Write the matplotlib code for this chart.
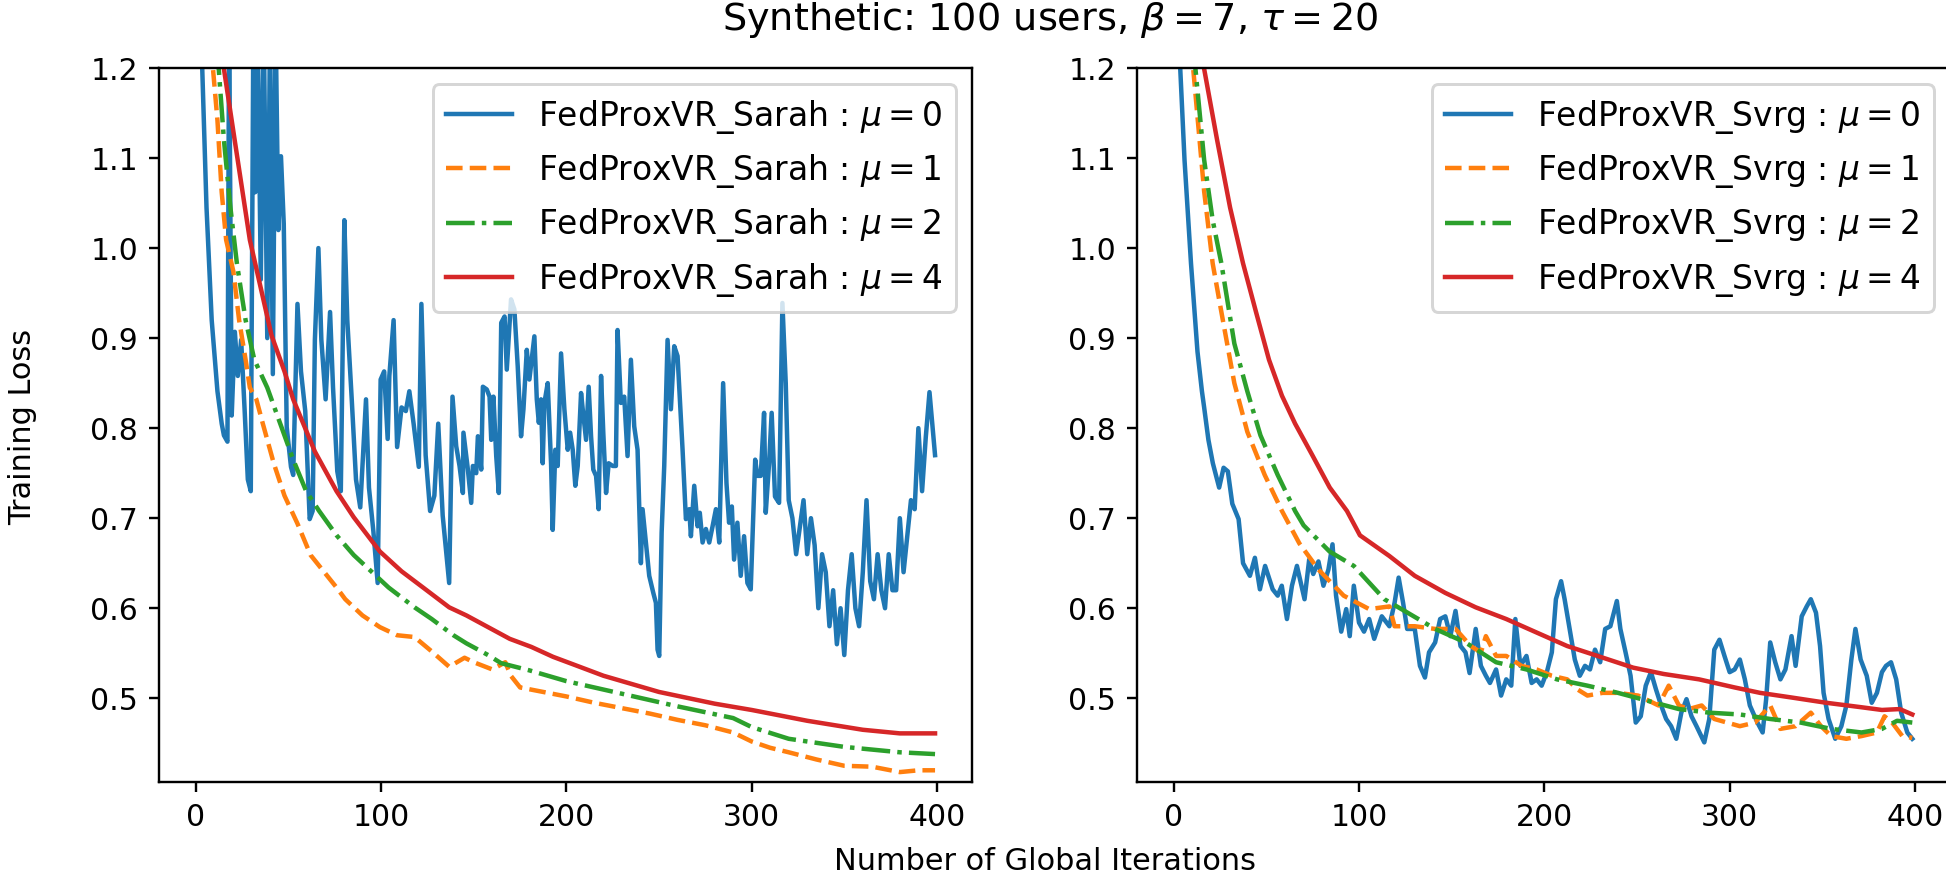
import matplotlib
matplotlib.use("Agg")
import matplotlib.pyplot as plt

# ---- left panel: FedProxVR_Sarah ----
sarah_mu0_it = [0, 3.4, 5.7, 8.5, 11.6, 13.9, 15.1, 17, 17.9, 19.3, 21, 22.6, 24.4, 26.3, 28, 29.6, 31, 32, 33.3, 35,
                36.6, 38.5, 40, 41.5, 43, 44.5, 45.9, 47.4, 49, 51.3, 52.5, 54.8, 56.7, 59, 61.4, 63, 64.2, 66.1, 67.7,
                70, 72.4, 74, 76.3, 78.2, 80.1, 81.7, 84.1, 86.4, 88.7, 91.8, 93.4, 95.8, 98.1, 99.7, 101.6, 103.5,
                104.4, 106.7, 108.6, 111, 113.3, 115.2, 117.5, 120.3, 121.7, 124, 126.4, 128.7, 130.8, 133.2, 136.7,
                138.5, 140.5, 142.3, 144.1, 144.4, 146.8, 148.6, 149.5, 151.3, 152.2, 154, 154.9, 157, 158.5, 159.4,
                160.6, 162.1, 163.5, 164.8, 166.6, 167.8, 170.1, 171.9, 173.7, 175.5, 176.8, 178.6, 180, 182.7, 184,
                185.1, 186.3, 187.2, 188.1, 189.9, 191.7, 192.6, 194, 195.3, 197.1, 198.9, 200.7, 202, 203.4, 204.8,
                206.1, 207.9, 208.8, 210.6, 212, 213.3, 214.5, 216, 217.4, 218.7, 219.9, 221.4, 222.8, 225, 226.7,
                227.6, 229.4, 231.2, 233, 234.8, 236.6, 238.4, 240.2, 241.1, 242.9, 244.7, 246.9, 248.3, 249.2, 250.1,
                251.4, 252.8, 254.6, 256.4, 258.2, 260, 262.7, 264.5, 266.3, 267.2, 269, 270.8, 272, 273.5, 275.3,
                277.1, 278.9, 280.7, 282.5, 284.6, 286.4, 287.8, 289.3, 290.5, 292.3, 294.1, 295.9, 297.7, 299.5,
                301.9, 303.1, 304.9, 306.7, 307.6, 309.4, 310.8, 312.6, 314.8, 316.6, 318.4, 320, 322, 324, 326,
                328, 330, 332, 334, 336, 338, 340, 342, 344, 346, 348, 350, 352, 354, 356, 358, 360, 362, 364, 366,
                368, 370, 372, 374, 376, 378, 380, 382, 384, 386, 388, 390, 392, 394, 396, 399]
sarah_mu0_loss = [1.35, 1.199, 1.045, 0.920, 0.841, 0.805, 0.792, 0.785, 1.25, 0.814, 0.907, 0.858, 0.898, 0.819,
                  0.743, 0.730, 1.25, 1.062, 1.25, 0.965, 1.25, 0.90, 1.25, 0.86, 1.25, 1.02, 1.102, 1.027, 0.801,
                  0.757, 0.748, 0.938, 0.863, 0.819, 0.699, 0.708, 0.898, 1.0, 0.898, 0.832, 0.929, 0.845, 0.752,
                  0.730, 1.031, 0.920, 0.832, 0.743, 0.712, 0.832, 0.734, 0.685, 0.628, 0.854, 0.863, 0.788, 0.858,
                  0.920, 0.779, 0.823, 0.819, 0.841, 0.805, 0.757, 0.938, 0.770, 0.708, 0.725, 0.805, 0.703, 0.628,
                  0.835, 0.780, 0.758, 0.728, 0.795, 0.754, 0.717, 0.758, 0.750, 0.791, 0.754, 0.846, 0.843, 0.835,
                  0.787, 0.835, 0.769, 0.728, 0.917, 0.924, 0.865, 0.943, 0.932, 0.869, 0.791, 0.821, 0.887, 0.854,
                  0.902, 0.832, 0.806, 0.832, 0.761, 0.828, 0.850, 0.761, 0.687, 0.776, 0.758, 0.883, 0.821, 0.776,
                  0.795, 0.776, 0.736, 0.758, 0.839, 0.821, 0.787, 0.846, 0.791, 0.754, 0.747, 0.710, 0.858, 0.795,
                  0.728, 0.761, 0.758, 0.758, 0.909, 0.828, 0.835, 0.769, 0.876, 0.802, 0.776, 0.650, 0.710, 0.673,
                  0.636, 0.617, 0.606, 0.554, 0.547, 0.684, 0.758, 0.898, 0.821, 0.891, 0.880, 0.776, 0.699, 0.710,
                  0.680, 0.736, 0.691, 0.706, 0.673, 0.688, 0.673, 0.691, 0.710, 0.673, 0.850, 0.739, 0.695, 0.713,
                  0.654, 0.695, 0.636, 0.680, 0.628, 0.621, 0.765, 0.747, 0.747, 0.817, 0.706, 0.761, 0.817, 0.724,
                  0.717, 0.939, 0.850, 0.72, 0.70, 0.66, 0.69, 0.72, 0.66, 0.70, 0.67, 0.60, 0.66, 0.64, 0.58, 0.62,
                  0.56, 0.60, 0.548, 0.62, 0.66, 0.60, 0.58, 0.64, 0.72, 0.63, 0.61, 0.66, 0.62, 0.60, 0.66, 0.62, 0.62,
                  0.70, 0.64, 0.68, 0.72, 0.71, 0.80, 0.73, 0.79, 0.84, 0.77]

sarah_mu1_it = [0, 9.2, 11.6, 13.9, 16.3, 20.2, 23.3, 26.8, 29.1, 32.6, 36.1, 42, 47.8, 54.8, 61.9, 68.9, 75.9, 80.6,
                89.9, 99.3, 108.6, 118, 127.3, 136.7, 145, 150, 160, 167, 170, 175, 185, 200, 215, 230, 245, 260, 275,
                290, 300, 310, 320, 335, 350, 365, 380, 390, 399]
sarah_mu1_loss = [1.6, 1.199, 1.142, 1.062, 1.009, 0.974, 0.920, 0.876, 0.845, 0.832, 0.805, 0.761, 0.725, 0.694,
                  0.659, 0.641, 0.623, 0.610, 0.592, 0.579, 0.570, 0.568, 0.552, 0.535, 0.545, 0.540, 0.532, 0.540,
                  0.525, 0.512, 0.508, 0.502, 0.495, 0.489, 0.483, 0.476, 0.470, 0.462, 0.452, 0.445, 0.440, 0.432,
                  0.425, 0.424, 0.418, 0.420, 0.420]

sarah_mu2_it = [0, 12.3, 15.1, 18.6, 22.1, 26.8, 31.5, 38.5, 45.5, 52.5, 59.5, 66.5, 75.9, 85.2, 94.6, 104, 118, 127.3,
                139, 146, 157.7, 164.7, 180, 200, 230, 260, 290, 300, 320, 350, 380, 399]
sarah_mu2_loss = [1.6, 1.199, 1.120, 1.045, 0.983, 0.920, 0.876, 0.845, 0.805, 0.765, 0.730, 0.708, 0.681, 0.659,
                  0.641, 0.623, 0.601, 0.588, 0.570, 0.561, 0.548, 0.539, 0.531, 0.519, 0.505, 0.491, 0.478, 0.468,
                  0.455, 0.446, 0.440, 0.438]

sarah_mu4_it = [0, 15.1, 20.9, 29.1, 40.8, 47.8, 52.5, 64.2, 75.9, 85.2, 99.3, 111, 122.6, 136.7, 146, 157.7, 169.4,
                181.1, 192.8, 204.5, 220, 250, 280, 300, 330, 360, 380, 399]
sarah_mu4_loss = [1.7, 1.199, 1.120, 1.009, 0.903, 0.863, 0.832, 0.774, 0.730, 0.701, 0.663, 0.641, 0.623, 0.601,
                  0.592, 0.579, 0.566, 0.557, 0.546, 0.537, 0.525, 0.507, 0.494, 0.487, 0.475, 0.465, 0.461, 0.461]

# ---- right panel: FedProxVR_Svrg ----
svrg_mu0_it = [0, 3.4, 5.7, 9.2, 12.7, 15.1, 16.3, 18.6, 21, 24.4, 26.8, 29.1, 31.5, 34.9, 37.3, 41, 43.7, 46.4, 49.2,
               53.3, 56, 58.2, 61, 63.7, 66.4, 70.5, 73, 75.2, 78, 80.7, 83.4, 85.6, 87.5, 90.3, 93, 94.9, 97.1, 99.9,
               102.6, 105.4, 108.1, 112.2, 116.3, 119.1, 121.3, 123.7, 125.9, 130, 132.8, 135.5, 137.7, 141, 143.7,
               146.5, 149.2, 152, 154.7, 157.4, 159.6, 162.9, 165.7, 168.4, 170.6, 173.9, 176.6, 179.4, 182.1, 184.3,
               187, 190.3, 193.1, 195.8, 198.5, 201.3, 204, 206.2, 209, 210.9, 213.6, 216.4, 219.1, 221.9, 224.6,
               227.3, 230.1, 232.8, 235.6, 239.1, 241, 243.8, 246.5, 249.3, 252, 254.7, 257.5, 260.2, 263, 265.7,
               268.4, 271.2, 273.9, 276.7, 279.4, 282.1, 286.3, 289, 291.7, 294.5, 297.2, 300, 302.7, 305.5, 308.2,
               310.9, 315, 317.8, 319.7, 321.9, 324.6, 327.4, 330.1, 333.4, 335.6, 338.9, 341.6, 343.8, 346.6, 348.8,
               350.7, 353.4, 357, 360.3, 363, 365.7, 367.9, 370.7, 374, 376.7, 379.5, 382.2, 384.4, 387.1, 389.9,
               392.6, 395.9, 398.6]
svrg_mu0_loss = [1.4, 1.199, 1.098, 0.983, 0.885, 0.841, 0.823, 0.787, 0.761, 0.734, 0.756, 0.752, 0.716, 0.699,
                 0.650, 0.636, 0.656, 0.621, 0.647, 0.621, 0.614, 0.625, 0.588, 0.625, 0.647, 0.610, 0.654, 0.638,
                 0.652, 0.625, 0.643, 0.671, 0.614, 0.574, 0.599, 0.569, 0.625, 0.584, 0.574, 0.588, 0.566, 0.591,
                 0.580, 0.606, 0.634, 0.606, 0.577, 0.577, 0.536, 0.523, 0.551, 0.562, 0.588, 0.591, 0.569, 0.597,
                 0.558, 0.551, 0.528, 0.577, 0.536, 0.525, 0.517, 0.532, 0.503, 0.521, 0.514, 0.588, 0.536, 0.547,
                 0.517, 0.521, 0.514, 0.529, 0.551, 0.610, 0.630, 0.610, 0.577, 0.543, 0.525, 0.536, 0.532, 0.554,
                 0.540, 0.577, 0.580, 0.608, 0.577, 0.551, 0.525, 0.473, 0.480, 0.514, 0.529, 0.510, 0.492, 0.477,
                 0.469, 0.455, 0.484, 0.499, 0.480, 0.469, 0.451, 0.477, 0.554, 0.565, 0.547, 0.529, 0.532, 0.543,
                 0.521, 0.492, 0.473, 0.462, 0.499, 0.562, 0.540, 0.521, 0.532, 0.569, 0.536, 0.591, 0.602, 0.610,
                 0.595, 0.558, 0.506, 0.477, 0.455, 0.469, 0.492, 0.543, 0.577, 0.543, 0.525, 0.495, 0.506, 0.529,
                 0.536, 0.540, 0.521, 0.484, 0.462, 0.455]

svrg_mu1_it = [0, 10.4, 16.3, 20.9, 25.6, 32.6, 39.6, 49, 58.3, 67.7, 78, 91.6, 105.4, 116.3, 119.1, 130, 141, 152,
               160.2, 165.7, 168.4, 173.9, 179.4, 187.6, 195.8, 204, 212.3, 217.7, 223.2, 231.4, 239.7, 250.6, 261.6,
               267.1, 272.6, 278, 284.9, 291.7, 298.6, 305.5, 313.7, 321.9, 327.4, 335.6, 343.8, 349.3, 354.8, 363,
               371.2, 379.5, 383.6, 387.7, 393.2, 398.6]
svrg_mu1_loss = [1.5, 1.199, 1.063, 0.983, 0.929, 0.850, 0.796, 0.748, 0.708, 0.672, 0.643, 0.614, 0.599, 0.602,
                 0.580, 0.580, 0.577, 0.577, 0.558, 0.551, 0.569, 0.547, 0.547, 0.536, 0.532, 0.525, 0.521, 0.510,
                 0.503, 0.506, 0.506, 0.503, 0.492, 0.514, 0.492, 0.488, 0.492, 0.477, 0.473, 0.469, 0.473, 0.492,
                 0.466, 0.469, 0.484, 0.469, 0.458, 0.455, 0.458, 0.462, 0.480, 0.473, 0.458, 0.456]

svrg_mu2_it = [0, 11.6, 16.3, 20.9, 25.6, 32.6, 39.6, 46.7, 56, 65.4, 70, 84, 97.1, 113.6, 124.5, 141, 157.4, 173.9,
               190.3, 206.8, 223.2, 239.7, 256.1, 272.6, 289, 305.5, 321.9, 338.3, 354.8, 371.2, 382.2, 390.4, 398.6]
svrg_mu2_loss = [1.5, 1.199, 1.098, 1.031, 0.983, 0.894, 0.841, 0.792, 0.748, 0.708, 0.692, 0.663, 0.647, 0.610,
                 0.597, 0.577, 0.562, 0.540, 0.532, 0.521, 0.514, 0.506, 0.497, 0.488, 0.484, 0.482, 0.477, 0.473,
                 0.466, 0.462, 0.466, 0.475, 0.473]

svrg_mu4_it = [0, 16.3, 23.3, 30.3, 37.3, 44.3, 51.3, 58.3, 65.4, 74.7, 84.1, 93.4, 100.4, 116.3, 130, 146.5, 162.9,
               179.4, 195.8, 212.3, 228.7, 247.9, 264.3, 283.5, 302.7, 316.4, 332.9, 352.1, 371.2, 382.2, 391.8, 398.6]
svrg_mu4_loss = [1.6, 1.199, 1.120, 1.045, 0.983, 0.929, 0.876, 0.836, 0.805, 0.770, 0.734, 0.708, 0.681, 0.658,
                 0.636, 0.617, 0.601, 0.588, 0.573, 0.558, 0.547, 0.534, 0.527, 0.521, 0.512, 0.506, 0.501, 0.495,
                 0.490, 0.487, 0.488, 0.482]

mu_values = [0, 1, 2, 4]
styles = ['-', '--', '-.', '-']
colors = ['tab:blue', 'tab:orange', 'tab:green', 'tab:red']

D = 215
fig = plt.figure(figsize=(1947 / D, 875 / D), dpi=D)
ax1 = fig.add_axes([159 / 1947, 1 - 782 / 875, 813 / 1947, 714 / 875])
ax2 = fig.add_axes([1137 / 1947, 1 - 782 / 875, 813 / 1947, 714 / 875])

left = [(sarah_mu0_it, sarah_mu0_loss), (sarah_mu1_it, sarah_mu1_loss),
        (sarah_mu2_it, sarah_mu2_loss), (sarah_mu4_it, sarah_mu4_loss)]
right = [(svrg_mu0_it, svrg_mu0_loss), (svrg_mu1_it, svrg_mu1_loss),
         (svrg_mu2_it, svrg_mu2_loss), (svrg_mu4_it, svrg_mu4_loss)]

for ax, series, name in [(ax1, left, "FedProxVR_Sarah"), (ax2, right, "FedProxVR_Svrg")]:
    for (x, y), mu, ls, c in zip(series, mu_values, styles, colors):
        ax.plot(x, y, linestyle=ls, color=c, linewidth=1.5,
                label=name + " : $\\mu = " + str(mu) + "$")
    ax.set_xlim(-19.95, 418.95)
    ax.set_ylim(0.407, 1.2)
    ax.set_xticks([0, 100, 200, 300, 400])
    ax.set_yticks([0.5, 0.6, 0.7, 0.8, 0.9, 1.0, 1.1, 1.2])
    ax.legend(loc="upper right", fontsize=11)

fig.text(1050 / 1947, 1 - 20 / 875, "Synthetic: 100 users, $\\beta = 7$, $\\tau = 20$",
         ha="center", va="center", fontsize=12.8)
fig.text(1045 / 1947, 1 - 862 / 875, "Number of Global Iterations", ha="center", va="center", fontsize=10.2)
fig.text(23 / 1947, 1 - 427 / 875, "Training Loss", ha="center", va="center", rotation=90, fontsize=10.2)

fig.savefig("out.png", dpi=D)
